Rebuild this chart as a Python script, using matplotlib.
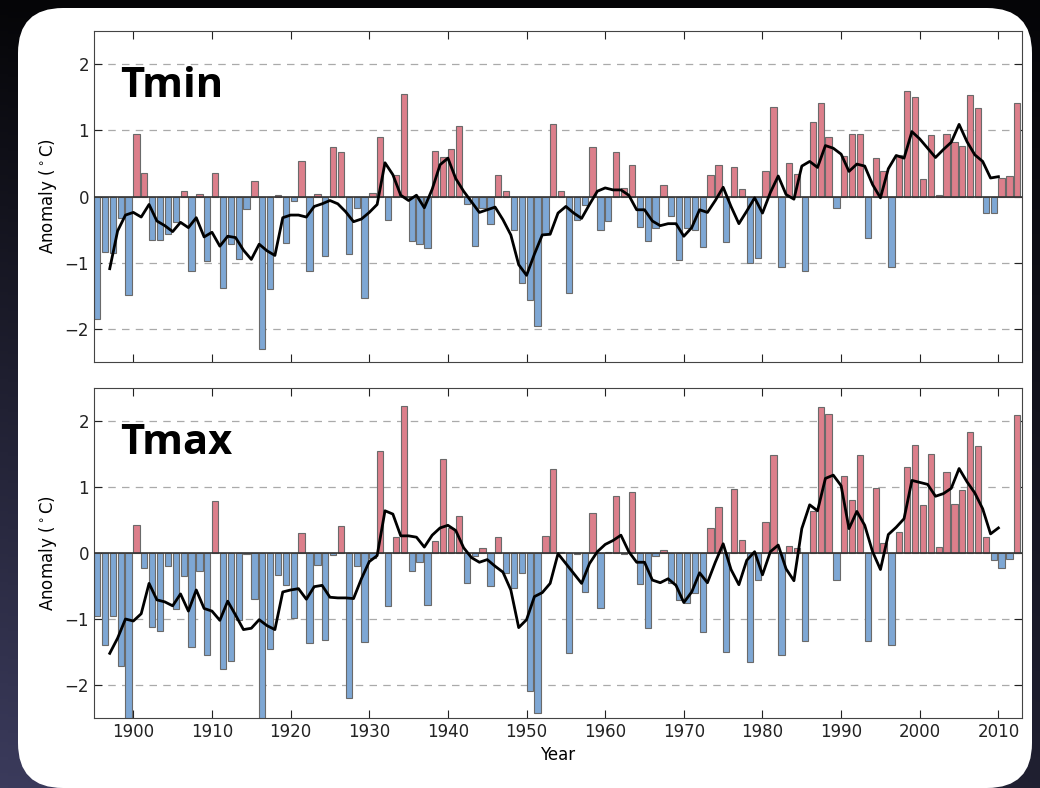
# -*- coding:utf-8 -*-
import numpy as np
import matplotlib
matplotlib.use("Agg")
import matplotlib.pyplot as plt
from matplotlib.patches import FancyBboxPatch

years = list(range(1895, 2013))
mean_years = list(range(1897, 2011))

tmin = [-1.85, -0.84, -0.86, -0.32, -1.49, 0.94, 0.36, -0.65, -0.66, -0.57,
        -0.38, 0.09, -1.13, 0.04, -0.97, 0.36, -1.38, -0.72, -0.94, -0.19,
        0.23, -2.30, -1.40, 0.02, -0.70, -0.07, 0.53, -1.13, 0.04, -0.90,
        0.75, 0.68, -0.87, -0.18, -1.53, 0.06, 0.90, -0.35, 0.33, 1.55,
        -0.67, -0.71, -0.78, 0.69, 0.59, 0.72, 1.06, -0.12, -0.74, -0.17,
        -0.41, 0.32, 0.09, -0.51, -1.30, -1.57, -1.96, -0.57, 1.10, 0.09,
        -1.46, -0.35, -0.13, 0.75, -0.50, -0.37, 0.68, 0.13, 0.48, -0.46,
        -0.67, -0.47, 0.17, -0.30, -0.96, -0.48, -0.50, -0.76, 0.32, 0.48,
        -0.69, 0.45, 0.12, -1.01, -0.93, 0.39, 1.35, -1.06, 0.51, 0.34,
        -1.12, 1.12, 1.41, 0.90, -0.17, 0.61, 0.95, 0.95, -0.62, 0.58,
        0.38, -1.07, 0.63, 1.59, 1.51, 0.26, 0.93, 0.02, 0.95, 0.83,
        0.76, 1.53, 1.34, -0.25, -0.25, 0.28, 0.31, 1.42]

tmin_mean = [-1.09, -0.52, -0.28, -0.24, -0.31, -0.12, -0.37, -0.44, -0.53, -0.39,
             -0.47, -0.32, -0.61, -0.54, -0.75, -0.60, -0.62, -0.81, -0.95, -0.72,
             -0.82, -0.89, -0.32, -0.28, -0.28, -0.31, -0.15, -0.11, -0.06, -0.11,
             -0.23, -0.38, -0.34, -0.24, -0.12, 0.51, 0.33, 0.02, -0.06, 0.02,
             -0.17, 0.11, 0.48, 0.58, 0.27, 0.08, -0.08, -0.24, -0.20, -0.16,
             -0.35, -0.58, -1.03, -1.19, -0.87, -0.58, -0.57, -0.25, -0.15, -0.25,
             -0.33, -0.12, 0.08, 0.13, 0.10, 0.10, 0.02, -0.20, -0.20, -0.37,
             -0.44, -0.41, -0.41, -0.60, -0.47, -0.20, -0.24, -0.06, 0.14, -0.15,
             -0.41, -0.22, -0.02, -0.25, 0.06, 0.31, 0.03, -0.04, 0.46, 0.53,
             0.44, 0.77, 0.73, 0.64, 0.38, 0.49, 0.46, 0.18, -0.02, 0.42,
             0.62, 0.58, 0.98, 0.87, 0.73, 0.59, 0.71, 0.82, 1.09, 0.83,
             0.63, 0.53, 0.28, 0.30]

tmax = [-0.96, -1.40, -0.95, -1.71, -2.60, 0.42, -0.22, -1.12, -1.18, -0.20,
        -0.85, -0.35, -1.43, -0.27, -1.54, 0.79, -1.76, -1.63, -1.01, -0.02,
        -0.70, -2.60, -1.45, -0.34, -0.49, -0.98, 0.30, -1.36, -0.18, -1.32,
        -0.03, 0.41, -2.20, -0.20, -1.35, -0.07, 1.54, -0.80, 0.25, 2.23,
        -0.27, -0.14, -0.78, 0.18, 1.43, 0.38, 0.56, -0.45, -0.04, 0.08,
        -0.50, 0.25, -0.30, -0.53, -0.30, -2.09, -2.42, 0.26, 1.28, 0.02,
        -1.52, -0.02, -0.59, 0.60, -0.83, 0.01, 0.87, -0.02, 0.93, -0.47,
        -1.13, -0.04, 0.04, -0.45, -0.71, -0.75, -0.61, -1.19, 0.38, 0.69,
        -1.50, 0.97, 0.19, -1.65, -0.41, 0.47, 1.49, -1.55, 0.11, 0.07,
        -1.33, 0.63, 2.21, 2.11, -0.41, 1.17, 0.81, 1.49, -1.33, 0.99,
        0.15, -1.39, 0.32, 1.31, 1.63, 0.73, 1.50, 0.09, 1.22, 0.75,
        0.96, 1.83, 1.62, 0.25, -0.11, -0.22, -0.09, 2.09]

tmax_mean = [-1.52, -1.29, -1.00, -1.03, -0.92, -0.46, -0.71, -0.74, -0.80, -0.62,
             -0.88, -0.56, -0.84, -0.88, -1.02, -0.73, -0.94, -1.16, -1.14, -1.01,
             -1.10, -1.16, -0.59, -0.56, -0.54, -0.70, -0.51, -0.49, -0.67, -0.68,
             -0.68, -0.69, -0.39, -0.13, -0.04, 0.64, 0.59, 0.26, 0.26, 0.24,
             0.09, 0.27, 0.38, 0.42, 0.34, 0.08, -0.07, -0.14, -0.10, -0.20,
             -0.29, -0.56, -1.13, -1.01, -0.66, -0.60, -0.46, -0.01, -0.16, -0.31,
             -0.46, -0.16, 0.02, 0.13, 0.19, 0.27, 0.02, -0.14, -0.14, -0.41,
             -0.45, -0.39, -0.49, -0.75, -0.59, -0.30, -0.45, -0.14, 0.14, -0.25,
             -0.48, -0.11, 0.02, -0.33, 0.02, 0.12, -0.24, -0.42, 0.37, 0.73,
             0.64, 1.13, 1.18, 1.02, 0.37, 0.63, 0.42, 0.02, -0.25, 0.28,
             0.39, 0.52, 1.10, 1.07, 1.04, 0.86, 0.90, 0.98, 1.28, 1.08,
             0.91, 0.67, 0.29, 0.38]

red = '#dc7f8b'
blue = '#7ea7d4'

fig = plt.figure(figsize=(10.4, 7.88), dpi=100)

# dark background with soft gradient, white rounded card on top
bg = fig.add_axes([0, 0, 1, 1], zorder=-2)
grad = np.linspace(0, 1, 256)
gx, gy = np.meshgrid(grad, grad)
shade = np.clip(0.55 * gy * (1 - 0.5 * gx), 0, 1)
bg.imshow(shade, cmap=matplotlib.colors.LinearSegmentedColormap.from_list(
    'bgc', ['#050507', '#3b3b5c']), aspect='auto', extent=[0, 1040, 0, 788],
    origin='upper', vmin=0, vmax=0.55)
bg.add_patch(FancyBboxPatch((18, 0), 1014, 780,
                            boxstyle="round,pad=0,rounding_size=45",
                            facecolor='white', edgecolor='none'))
bg.set_xlim(0, 1040)
bg.set_ylim(0, 788)
bg.axis('off')

ax1 = fig.add_axes([0.0904, 0.5406, 0.8923, 0.42])
ax2 = fig.add_axes([0.0904, 0.0888, 0.8923, 0.4188])

for ax, vals, mean_vals, name in [(ax1, tmin, tmin_mean, 'Tmin'),
                                  (ax2, tmax, tmax_mean, 'Tmax')]:
    cols = [red if v > 0 else blue for v in vals]
    ax.bar(years, vals, width=0.8, align='edge', color=cols,
           edgecolor='#6a6a6a', linewidth=0.8, zorder=2)
    ax.plot(mean_years, mean_vals, color='black', lw=2, zorder=4)
    ax.axhline(0, color='#333333', lw=1.2, zorder=3)
    ax.set_xlim(1895, 2013)
    ax.set_ylim(-2.5, 2.5)
    ax.set_yticks([-2, -1, 0, 1, 2])
    ax.set_xticks(range(1900, 2011, 10))
    for g in [-2, -1, 1, 2]:
        ax.axhline(g, color='#aaaaaa', lw=0.9, ls=(0, (6, 5)), zorder=1)
    ax.tick_params(direction='in', top=True, right=True, length=6,
                   labelsize=12, colors='#222222')
    for s in ax.spines.values():
        s.set_color('#444444')
    ax.set_ylabel(r'Anomaly ($^\circ$C)', fontsize=12)
    ax.text(0.028, 0.80, name, transform=ax.transAxes, fontsize=30,
            fontweight='bold', family='Open Sans', va='baseline', zorder=5)

ax1.tick_params(labelbottom=False)
ax2.set_xlabel('Year', fontsize=12)

fig.savefig('out.png', dpi=100)
